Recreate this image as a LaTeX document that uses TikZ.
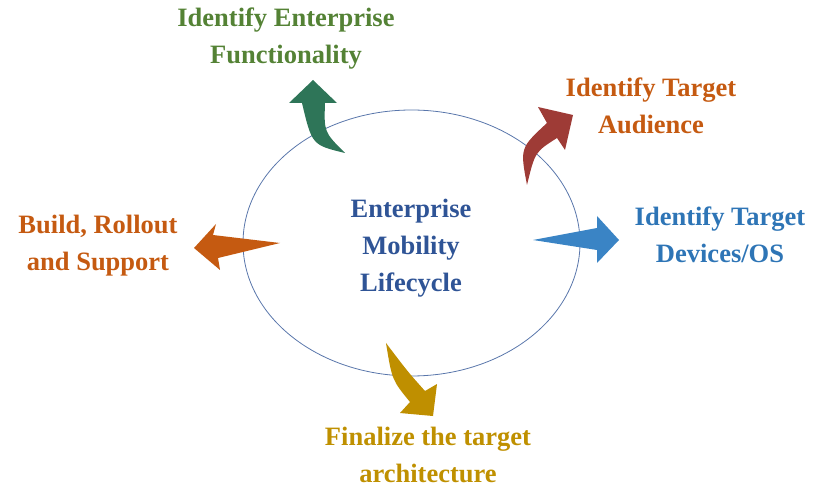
\documentclass[tikz,border=0pt]{standalone}
\usepackage{fontspec}
\setmainfont{Liberation Serif}
\begin{document}
\begin{tikzpicture}[x=1pt,y=-1pt,
  lbl/.style={align=center,font=\bfseries\fontsize{26.5}{37}\selectfont,inner sep=0pt}]
\definecolor{cg}{HTML}{548235}\definecolor{co}{HTML}{C55A11}
\definecolor{cb}{HTML}{2E75B6}\definecolor{cy}{HTML}{BF9000}
\definecolor{cc}{HTML}{2F5496}
\definecolor{ag}{HTML}{2E7558}\definecolor{ar}{HTML}{9E3B36}
\definecolor{ab}{HTML}{3A84C5}\definecolor{ay}{HTML}{BF8F00}
\useasboundingbox (0,0) rectangle (820,489);
\draw[color=cc!80,line width=0.8pt] (411.5,243) ellipse [x radius=168.5,y radius=133];
% arrows
\fill[ag] (313,80) -- (337,103) -- (325,103) .. controls (324,132) .. (345,153) .. controls (312,145) .. (302,103) -- (289,103) -- cycle;
\fill[ar] (573,115) -- (565,150) -- (557,138) .. controls (535,152) .. (527,185) .. controls (520,148) .. (547,123) -- (538,107) -- cycle;
\fill[co] (194,248) -- (216,224) -- (213,235) -- (280,243) -- (218,258) -- (220,270) -- cycle;
\fill[ab] (619,240) -- (597,216) -- (597,228) -- (533,240) -- (597,250) -- (597,263) -- cycle;
\fill[ay] (433,416) -- (400,413) -- (410,402) .. controls (392,380) .. (386,343) .. controls (408,372) .. (425,391) -- (437,384) -- cycle;
% texts
\node[lbl,text=cc] (c) at (411,248) {Enterprise\\Mobility\\Lifecycle};
\node[lbl,text=cg] (f) at (286,39) {Identify Enterprise\\Functionality};
\node[lbl,text=co] (a) at (651,106) {Identify Target\\Audience};
\node[lbl,text=cb] (d) at (720,235) {Identify Target\\Devices/OS};
\node[lbl,text=co] (b) at (98,246) {Build, Rollout\\and Support};
\node[lbl,text=cy] (t) at (428,455) {Finalize the target\\architecture};
\end{tikzpicture}
\end{document}
